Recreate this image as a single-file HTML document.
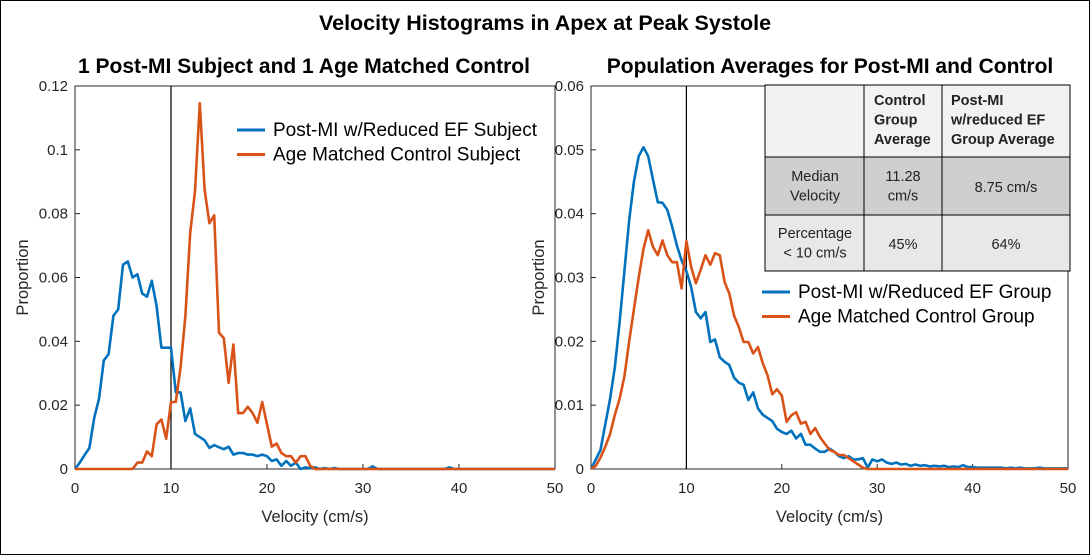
<!DOCTYPE html>
<html><head><meta charset="utf-8"><style>
body{margin:0;background:#fff;}
svg{display:block;font-family:"Liberation Sans",sans-serif;}
</style></head><body>
<svg id="fig" width="1090" height="555" viewBox="0 0 1090 555">
<rect x="0.5" y="0.5" width="1089" height="554" fill="#fff" stroke="#000"/>
<text x="545" y="30" text-anchor="middle" font-size="21.5" font-weight="bold">Velocity Histograms in Apex at Peak Systole</text>
<g id="left"></g>
<g id="right"></g>
</svg>
<script>
const velocityBins = Array.from({length:101},(_,i)=>i*0.5);
const leftBlue = [0,0.002,0.0044,0.0066,0.016,0.022,0.034,0.036,0.048,0.050,0.064,0.065,0.060,0.061,0.055,0.054,0.059,0.051,0.038,0.038,0.038,0.024,0.024,0.015,0.019,0.011,0.010,0.009,0.0066,0.0075,0.0068,0.0062,0.007,0.0045,0.005,0.005,0.0045,0.0045,0.004,0.0045,0.004,0.0025,0.003,0.001,0.0025,0.001,0.002,0,0.0005,0.0003,0.0005,0,0.0003,0,0.0003,0,0,0,0,0,0,0,0.0008,0,0,0,0,0,0,0,0,0,0,0,0,0,0,0,0.0005,0,0,0,0,0,0,0,0,0,0,0,0,0,0,0,0,0,0,0,0,0,0];
const leftOrange = [0,0,0,0,0,0,0,0,0,0,0,0,0,0.002,0.002,0.0055,0.004,0.014,0.0155,0.0095,0.021,0.021,0.032,0.048,0.074,0.087,0.1146,0.0875,0.077,0.0795,0.0427,0.041,0.027,0.039,0.0175,0.0175,0.0195,0.0175,0.0145,0.021,0.014,0.007,0.008,0.005,0.004,0.004,0.002,0.004,0.004,0.001,0,0,0,0,0,0,0,0,0,0,0,0,0,0,0,0,0,0,0,0,0,0,0,0,0,0,0,0,0,0,0,0,0,0,0,0,0,0,0,0,0,0,0,0,0,0,0,0,0,0,0];
const rightBlue = [0,0.0015,0.003,0.007,0.011,0.016,0.023,0.031,0.039,0.045,0.049,0.0504,0.049,0.0453,0.0418,0.0417,0.0406,0.038,0.035,0.0327,0.031,0.0285,0.0246,0.0236,0.0246,0.0199,0.0203,0.0175,0.0168,0.0163,0.0143,0.0135,0.0132,0.0108,0.012,0.0095,0.0085,0.008,0.0075,0.0063,0.0058,0.0055,0.006,0.0048,0.0055,0.0038,0.0038,0.0032,0.0027,0.0027,0.0032,0.0027,0.002,0.0017,0.002,0.0015,0.0015,0.0017,0.0002,0.0015,0.0012,0.0015,0.001,0.0008,0.001,0.0007,0.0008,0.0005,0.0007,0.0005,0.0006,0.0004,0.0005,0.0004,0.0005,0.0003,0.0004,0.0003,0.0006,0.0003,0.0003,0.0002,0.0002,0.0002,0.0002,0.0002,0.0002,0.0001,0.0002,0.0001,0.0002,0.0001,0.0001,0.0001,0.0002,0.0001,0.0001,0.0001,0.0001,0.0001,0.0001];
const rightOrange = [0,0.0005,0.0018,0.0035,0.0055,0.0085,0.011,0.0145,0.02,0.025,0.03,0.0345,0.0374,0.0348,0.0335,0.0358,0.0335,0.0324,0.0324,0.0283,0.0357,0.0316,0.0291,0.0312,0.0335,0.032,0.0338,0.0335,0.0293,0.0275,0.024,0.0222,0.0199,0.0199,0.0181,0.0191,0.0166,0.0147,0.0117,0.0125,0.0115,0.0074,0.0084,0.0089,0.0071,0.0074,0.0055,0.0064,0.005,0.004,0.003,0.0027,0.0022,0.0022,0.0017,0.0012,0.0007,0.0002,0,0,0,0,0,0,0,0,0,0,0,0,0,0,0,0,0,0,0,0,0,0,0,0,0,0,0,0,0,0,0,0,0,0,0,0,0,0,0,0,0,0,0];
const xTicks = [0,10,20,30,40,50];
const leftYTicks = [0,0.02,0.04,0.06,0.08,0.1,0.12];
const rightYTicks = [0,0.01,0.02,0.03,0.04,0.05,0.06];
const leftYLabels = ["0","0.02","0.04","0.06","0.08","0.1","0.12"];
const rightYLabels = ["0","0.01","0.02","0.03","0.04","0.05","0.06"];
const thresholdValue = 10;

const NS="http://www.w3.org/2000/svg";
function mk(parent,tag,attrs,text){const e=document.createElementNS(NS,tag);for(const k in attrs)e.setAttribute(k,attrs[k]);if(text!==undefined)e.textContent=text;parent.appendChild(e);return e;}

function drawChart(g,cfg){
  const x=v=>cfg.x0+(v-0)/50*(cfg.x1-cfg.x0);
  const y=v=>cfg.y0-(v/cfg.ymax)*(cfg.y0-cfg.y1);
  const box=mk(g,'rect',{x:cfg.x0,y:cfg.y1,width:cfg.x1-cfg.x0,height:cfg.y0-cfg.y1,fill:'none',stroke:'#262626','stroke-width':1});
  
  
  xTicks.forEach(t=>{
    mk(g,'line',{x1:x(t),x2:x(t),y1:cfg.y0,y2:cfg.y0-5,stroke:'#262626'});
    const l=mk(g,'text',{x:x(t),y:cfg.y0+24,'text-anchor':'middle','font-size':15,fill:'#262626'},String(t));
    
    
  });
  cfg.yTicks.forEach((t,i)=>{
    mk(g,'line',{x1:cfg.x0,x2:cfg.x0+5,y1:y(t),y2:y(t),stroke:'#262626'});
    const l=mk(g,'text',{x:cfg.x0-7,y:y(t)+5,'text-anchor':'end','font-size':15,fill:'#262626'},cfg.yLabels[i]);
    
    
  });
  const xl=mk(g,'text',{x:(cfg.x0+cfg.x1)/2,y:cfg.y0+53,'text-anchor':'middle','font-size':16.5,fill:'#262626'},'Velocity (cm/s)');
  
  
  const yl=mk(g,'text',{x:0,y:0,'text-anchor':'middle','font-size':16.5,fill:'#262626',transform:`translate(${cfg.x0-47},${(cfg.y0+cfg.y1)/2}) rotate(-90)`},'Proportion');
  
  
  const st=mk(g,'text',{x:cfg.tx,y:73,'text-anchor':'middle','font-size':21,'font-weight':'bold'},cfg.title);
  
  
  const th=mk(g,'line',{x1:x(thresholdValue),x2:x(thresholdValue),y1:cfg.y1,y2:cfg.y0,stroke:'#000','stroke-width':1.2});
  
  
  cfg.series.forEach(s=>{
    const pts=s.data.map((v,i)=>x(velocityBins[i]).toFixed(1)+','+y(v).toFixed(1)).join(' ');
    const p=mk(g,'polyline',{points:pts,fill:'none',stroke:s.color,'stroke-width':2.6,'stroke-linejoin':'round'});
    
    
  });
  cfg.legend.forEach((s,i)=>{
    const yy=cfg.ly+i*24.5;
    const ln=mk(g,'line',{x1:cfg.lx,x2:cfg.lx+28,y1:yy,y2:yy,stroke:s.color,'stroke-width':3});
    
    
    const t=mk(g,'text',{x:cfg.lx+36,y:yy+6,'font-size':19,fill:'#000'},s.label);
    
    
  });
}
const BLUE='#0072BD',ORANGE='#D95319';
drawChart(document.getElementById('left'),{x0:75,x1:555,y0:469,y1:86,ymax:0.12,yTicks:leftYTicks,yLabels:leftYLabels,tx:304,
  title:'1 Post-MI Subject and 1 Age Matched Control',
  series:[{name:'post-mi-subject-line',data:leftBlue,color:BLUE},{name:'control-subject-line',data:leftOrange,color:ORANGE}],
  legend:[{label:'Post-MI w/Reduced EF Subject',color:BLUE},{label:'Age Matched Control Subject',color:ORANGE}],lx:237,ly:130});
drawChart(document.getElementById('right'),{x0:591,x1:1068,y0:469,y1:86,ymax:0.06,yTicks:rightYTicks,yLabels:rightYLabels,tx:830,
  title:'Population Averages for Post-MI and Control',
  series:[{name:'post-mi-group-line',data:rightBlue,color:BLUE},{name:'control-group-line',data:rightOrange,color:ORANGE}],
  legend:[{label:'Post-MI w/Reduced EF Group',color:BLUE},{label:'Age Matched Control Group',color:ORANGE}],lx:762,ly:292});

const fig=document.getElementById('fig');
const tg=mk(fig,'g',{});


const cols=[765,864,942,1070], rows=[85,157,215,271];
const fills=['#f2f2f2','#cfcfcf','#e8e8e8'];
for(let r=0;r<3;r++){
  const rc=mk(tg,'rect',{x:cols[0],y:rows[r],width:cols[3]-cols[0],height:rows[r+1]-rows[r],fill:fills[r],stroke:'#000','stroke-width':1});
  
  
}
mk(tg,'line',{x1:cols[1],x2:cols[1],y1:rows[0],y2:rows[3],stroke:'#000'});
mk(tg,'line',{x1:cols[2],x2:cols[2],y1:rows[0],y2:rows[3],stroke:'#000'});
const cells=[
 [874,105,'start','bold',['Control','Group','Average']],
 [951,105,'start','bold',['Post-MI','w/reduced EF','Group Average']],
 [815,181,'middle','normal',['Median','Velocity']],
 [903,181,'middle','normal',['11.28','cm/s']],
 [1006,192,'middle','normal',['8.75 cm/s']],
 [815,238,'middle','normal',['Percentage','< 10 cm/s']],
 [903,249,'middle','normal',['45%']],
 [1006,249,'middle','normal',['64%']]];
cells.forEach(c=>{
  const t=mk(tg,'text',{x:c[0],y:c[1],'text-anchor':c[2],'font-size':14.5,'font-weight':c[3],fill:'#222'});
  
  
  c[4].forEach((s,i)=>mk(t,'tspan',{x:c[0],dy:i?19.5:0},s));
});
</script>
</body></html>
